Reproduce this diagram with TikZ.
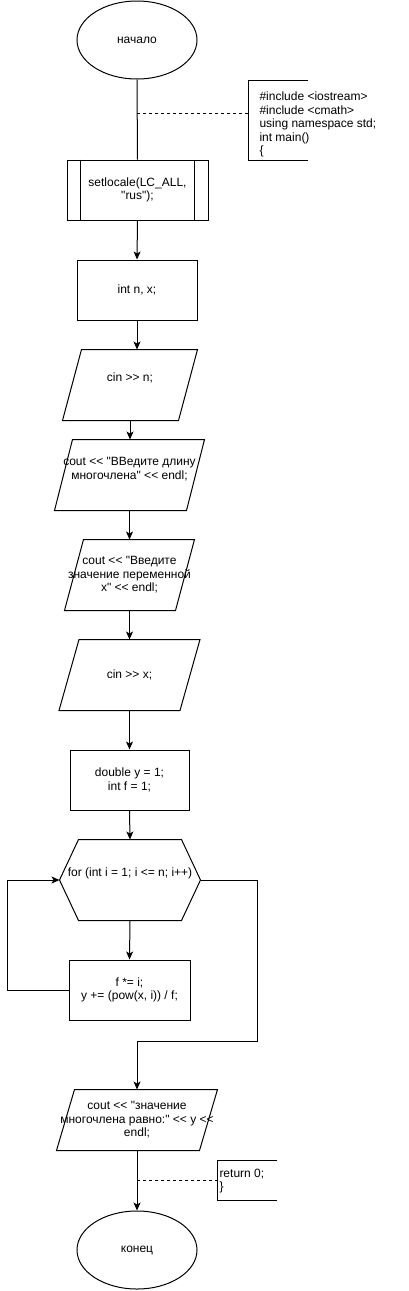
\documentclass[tikz,border=0pt]{standalone}
\usepackage{fontspec}
\setmainfont{Liberation Sans}[Ligatures=TeXOff]
\usetikzlibrary{arrows.meta,shapes.geometric}
\newcommand\iopath[2]{\draw ([xshift=#2pt]#1.north west) -- (#1.north east) -- ([xshift=-#2pt]#1.south east) -- (#1.south west) -- cycle;}
\begin{document}
\begin{tikzpicture}[x=1pt,y=-1pt,line width=1pt,
  every node/.style={font=\fontsize{12pt}{13.5pt}\selectfont,inner sep=0pt,align=center},
  term/.style={ellipse,draw,minimum width=120pt,minimum height=78pt},
  proc/.style={rectangle,draw,minimum height=60pt},
  io/.style={rectangle,minimum height=70pt},
  hexa/.style={rectangle,minimum width=140pt,minimum height=80pt},
  arr/.style={-{Stealth[length=8pt,width=7pt,inset=2pt]}},
  cmt/.style={anchor=west,align=left}
]
\useasboundingbox (0,0) rectangle (408,1291);

\node[term] (start) at (137,40) {начало};
\node[proc,minimum width=141pt] (setl) at (137.5,190) {setlocale(LC\_ALL,\\"rus");};
\draw ([xshift=14pt]setl.north west) -- ([xshift=14pt]setl.south west);
\draw ([xshift=-14pt]setl.north east) -- ([xshift=-14pt]setl.south east);
\node[proc,minimum width=120pt] (intnx) at (137,290) {int n, x;};
\node[io,minimum width=134pt,label={[yshift=7pt]center:{cin >> n;}}] (cin1) at (130,385) {};
\iopath{cin1}{19}
\node[io,minimum width=149pt,label={[yshift=6pt]center:{cout << "ВВедите длину\\многочлена" << endl;}}] (cout1) at (129.5,475) {};
\iopath{cout1}{18}
\node[io,minimum width=129pt] (cout2) at (129.5,575) {cout << "Введите\\значение переменной\\x" << endl;};
\iopath{cout2}{19}
\node[io,minimum width=140pt] (cin2) at (129.5,675) {cin >> x;};
\iopath{cin2}{20}
\node[proc,minimum width=119pt] (dbl) at (129.5,780) {double y = 1;\\int f = 1;};
\node[hexa,label={[yshift=7pt]center:{for (int i = 1; i <= n; i++)}}] (loop) at (130,880) {};
\draw (loop.west) -- ([xshift=19pt]loop.north west) -- ([xshift=-19pt]loop.north east) -- (loop.east) -- ([xshift=-19pt]loop.south east) -- ([xshift=19pt]loop.south west) -- cycle;
\node[proc,minimum width=121pt] (body) at (129.5,990) {f *= i;\\y += (pow(x, i)) / f;};
\node[io,minimum width=160pt,minimum height=60pt] (out) at (137,1120) {cout << "значение\\многочлена равно:" << y <<\\endl;};
\iopath{out}{18}
\node[term] (end) at (137,1250) {конец};

% comments
\coordinate (cb1) at (248,120);
\draw (308,80) -- (248,80) -- (248,160) -- (308,160);
\node[cmt] (c1) at (259,124.5) {\#include <iostream>\\\#include <cmath>\\using namespace std;\\int main()\\\{};
\coordinate (cb2) at (217,1180);
\draw (277,1160) -- (217,1160) -- (217,1200) -- (277,1200);
\node[cmt] (c2) at (219,1181) {return 0;\\\}};

% connectors
\draw (start.south) -- (setl.north);
\coordinate (d1) at (137,113);
\draw[dashed] (d1) -- (cb1 |- d1);
\draw[arr] (setl.south) -- (intnx.north);
\draw[arr] (intnx.south) -- (intnx.south |- cin1.north);
\draw[arr] (cin1.south) -- (cin1.south |- cout1.north);
\draw[arr] (cout1.south) -- (cout1.south |- cout2.north);
\draw[arr] (cout2.south) -- (cout2.south |- cin2.north);
\draw[arr] (cin2.south) -- (cin2.south |- dbl.north);
\draw[arr] (dbl.south) -- (loop.north);
\draw[arr] (loop.south) -- (body.north);
\draw[arr] (body.west) -- (7,990) -- (7,880) -- (loop.west);
\draw[arr] (loop.east) -- (257,880) -- (257,1041) -- (137,1041) -- (out.north);
\draw[arr] (out.south) -- (end.north);
\coordinate (d2) at (137,1180);
\draw[dashed] (d2) -- (cb2);
\end{tikzpicture}
\end{document}
